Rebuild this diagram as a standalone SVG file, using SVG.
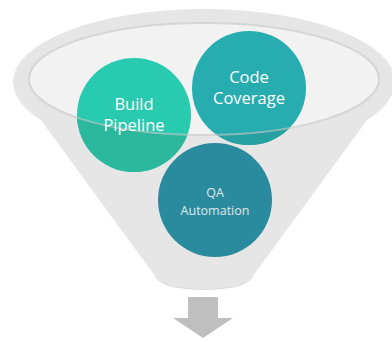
<svg xmlns="http://www.w3.org/2000/svg" width="392" height="342" viewBox="0 0 392 342">
<style>
.lbl{font-family:"Open Sans","Noto Sans","DejaVu Sans",sans-serif;text-anchor:middle;fill:#ffffff}
.big{font-size:16.5px}
.small{font-size:12.5px;fill:#e2e8ea}
</style>
<defs>
<clipPath id="outside">
<path clip-rule="evenodd" d="M0,0 H392 V342 H0 Z M29,79 A175,56 0 1,0 379,79 A175,56 0 1,0 29,79 Z"/>
</clipPath>
</defs>
<rect width="392" height="342" fill="#ffffff"/>
<g id="funnel">
<ellipse cx="204" cy="82" rx="191" ry="73" fill="#e6e6e6"/>
<path d="M13,82 L155,276 Q160,284 175,287 Q204,292 233,287 Q248,284 253,276 L395,82 Z" fill="#e6e6e6"/>
<path d="M155,276 Q160,284 175,287 Q204,292 233,287 Q248,284 253,276" fill="none" stroke="#dadada" stroke-width="1"/>
<ellipse cx="204" cy="79" rx="175" ry="56" fill="#f2f2f2"/>
</g>
<g id="node-build">
<circle cx="134" cy="115" r="57" fill="#29cbb0"/>
<circle cx="134" cy="115" r="57" fill="#2cb89d" clip-path="url(#outside)"/>
</g>
<g id="node-code">
<circle cx="249" cy="88" r="57" fill="#27adb0"/>
<circle cx="249" cy="88" r="57" fill="#26a0a1" clip-path="url(#outside)"/>
</g>
<g id="node-qa">
<circle cx="215" cy="200" r="57" fill="#2a8a9e"/>
</g>
<ellipse id="rim" cx="204" cy="79" rx="175" ry="56" fill="none" stroke="#c8c8c8" stroke-opacity="0.6" stroke-width="2"/>
<g id="labels">
<text class="lbl big" x="134" y="109.5">Build<tspan x="134" dy="21">Pipeline</tspan></text>
<text class="lbl big" x="249" y="83">Code<tspan x="249" dy="21">Coverage</tspan></text>
<text class="lbl small" x="215" y="197">QA<tspan x="215" dy="18">Automation</tspan></text>
</g>
<g id="arrow">
<path d="M188,297 H218 V318 H233 L203,338 L173,318 H188 Z" fill="#bfbfbf"/>
</g>
</svg>
